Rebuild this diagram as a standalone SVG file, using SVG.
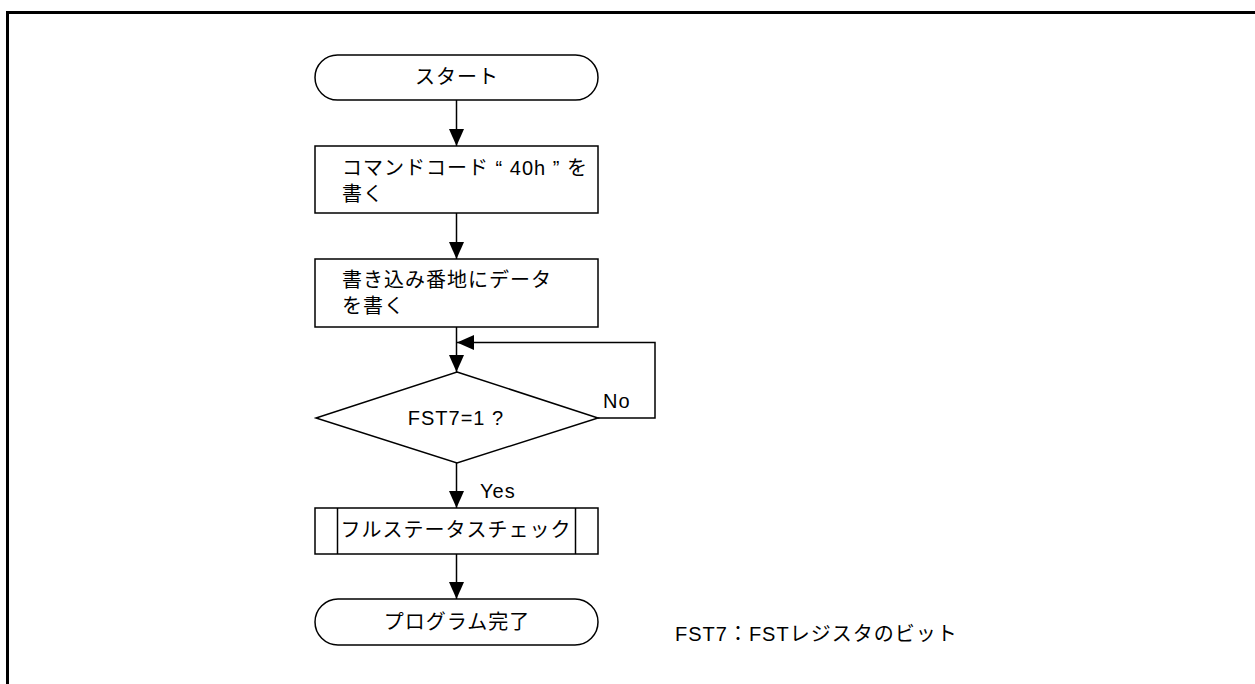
<svg xmlns="http://www.w3.org/2000/svg" width="1255" height="684" viewBox="0 0 1255 684">
<style>
.s{fill:#fff;stroke:#000;stroke-width:1.5}
.c{fill:none;stroke:#000;stroke-width:1.5}
.t{font-family:"Liberation Sans","Noto Sans CJK JP",sans-serif;font-size:20px;fill:#000;letter-spacing:1px}
.m{text-anchor:middle}
</style>
<defs>
<marker id="ah" markerWidth="17" markerHeight="15" refX="17" refY="7.5" viewBox="0 0 17 15" orient="auto" markerUnits="userSpaceOnUse">
<path d="M0,0 L17,7.5 L0,15 Z" fill="#000"/>
</marker>
</defs>
<rect width="1255" height="684" fill="#fff"/>
<path d="M7.5,684 V12.5 H1255" fill="none" stroke="#000" stroke-width="3"/>
<g id="connectors">
<line class="c" x1="456.5" y1="100" x2="456.5" y2="146" marker-end="url(#ah)"/>
<line class="c" x1="456.5" y1="213" x2="456.5" y2="259" marker-end="url(#ah)"/>
<line class="c" x1="456.5" y1="327" x2="456.5" y2="372" marker-end="url(#ah)"/>
<polyline class="c" points="598,418 655,418 655,342.5 457,342.5" marker-end="url(#ah)"/>
<line class="c" x1="456.5" y1="463" x2="456.5" y2="508" marker-end="url(#ah)"/>
<line class="c" x1="456.5" y1="554" x2="456.5" y2="599" marker-end="url(#ah)"/>
<text class="t" x="603" y="408">No</text>
<text class="t" x="480" y="498">Yes</text>
</g>
<g id="start">
<rect class="s" x="315" y="55" width="283" height="45" rx="22.5" ry="22.5"/>
<text class="t m" x="457" y="84">スタート</text>
</g>
<g id="cmd">
<rect class="s" x="315" y="146" width="283" height="67"/>
<text class="t" x="342" y="175">コマンドコード “ 40h ” を</text>
<text class="t" x="342" y="201">書く</text>
</g>
<g id="write">
<rect class="s" x="315" y="259" width="283" height="68"/>
<text class="t" x="342" y="287">書き込み番地にデータ</text>
<text class="t" x="342" y="313">を書く</text>
</g>
<g id="decision">
<polygon class="s" points="457,372 598,418 457,463 316,418"/>
<text class="t m" x="456" y="425">FST7=1 ?</text>
</g>
<g id="fullstatus">
<rect class="s" x="315" y="508" width="283" height="46"/>
<line class="c" x1="337.5" y1="508" x2="337.5" y2="554"/>
<line class="c" x1="575.5" y1="508" x2="575.5" y2="554"/>
<text class="t m" x="456" y="537">フルステータスチェック</text>
</g>
<g id="end">
<rect class="s" x="315" y="599" width="283" height="46" rx="23" ry="23"/>
<text class="t m" x="457" y="629">プログラム完了</text>
</g>
<g id="note">
<text class="t" x="675" y="641">FST7：FSTレジスタのビット</text>
</g>
</svg>
